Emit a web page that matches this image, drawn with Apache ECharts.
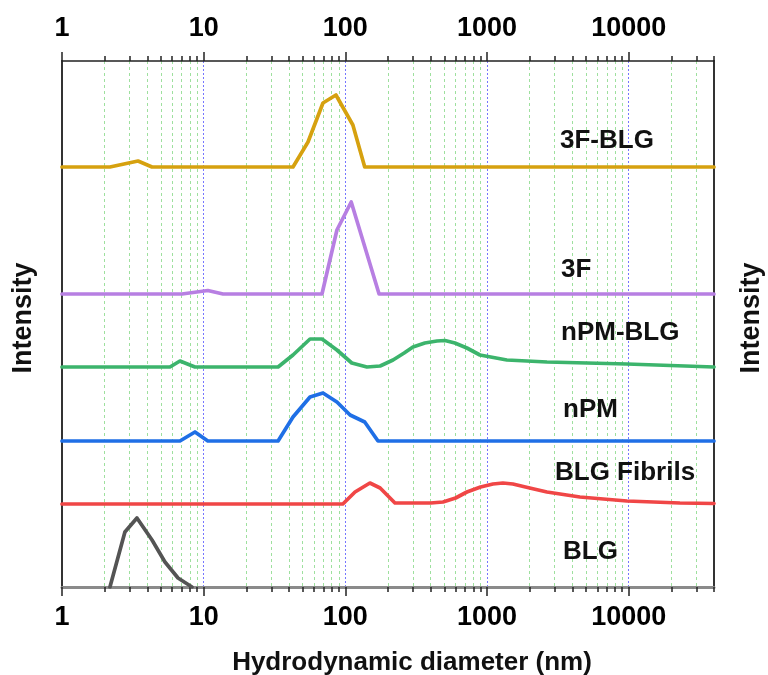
<!DOCTYPE html>
<html><head><meta charset="utf-8">
<script src="https://cdn.jsdelivr.net/npm/echarts@6/dist/echarts.min.js"></script>
<style>html,body{margin:0;padding:0;background:#fff}#c{width:768px;height:675px}</style>
</head><body><div id="c"></div>
<script>
// ---- data (hydrodynamic diameter in nm, intensity in arbitrary units) ----
const seriesNames = ['3F-BLG', '3F', 'nPM-BLG', 'nPM', 'BLG Fibrils', 'BLG'];
const seriesColors = ['#D6A10F', '#B77FE2', '#3CB46C', '#1F6FE6', '#F04646', '#545454'];
const offsets = [420, 293, 220, 146, 83, 0];

const x_3FBLG = [1, 2.18, 3.44, 4.32, 42.7, 54.5, 69.5, 85.8, 113, 137, 40000];
const y_3FBLG = [0, 0, 6, 0, 0, 25, 64, 72, 42, 0, 0];

const x_3F = [1, 7.03, 10.7, 13.7, 68.4, 87.2, 110, 173, 40000];
const y_3F = [0, 0, 3.5, 0, 0, 64, 92, 0, 0];

const x_nPMBLG = [1, 5.78, 6.80, 8.68, 33.5, 42.7, 56.3, 68.4, 87.2, 111, 142, 176, 217, 260, 300, 364, 443, 505, 593, 721, 891, 1381, 2650, 9710, 40000];
const y_nPMBLG = [0, 0, 6, 0, 0, 12, 28, 28, 17, 4, 0, 1, 7, 14, 20, 24, 26, 26.5, 24, 19, 12, 7, 5, 3, 0];

const x_nPM = [1, 6.80, 8.68, 10.7, 33.5, 42.7, 56.3, 69.5, 87.2, 108, 137, 170, 40000];
const y_nPM = [0, 0, 9, 0, 0, 24, 44, 48, 39, 26, 19, 0, 0];

const x_fib = [1, 96, 117, 149, 176, 224, 286, 400, 489, 600, 721, 900, 1101, 1295, 1523, 2000, 2648, 4525, 9710, 22980, 40000];
const y_fib = [0, 0, 12, 21, 16, 1, 1, 1, 2, 6, 12, 17, 20, 21, 20, 16, 12, 7, 3, 1, 0.5];

const x_BLG = [2.18, 2.78, 3.38, 4.32, 5.33, 6.59, 8.27];
const y_BLG = [0, 55, 69, 47, 25, 9, 0];

const xs = [x_3FBLG, x_3F, x_nPMBLG, x_nPM, x_fib, x_BLG];
const ys = [y_3FBLG, y_3F, y_nPMBLG, y_nPM, y_fib, y_BLG];

const majorTicks = [1, 10, 100, 1000, 10000];
const minorTicks = [2,3,4,5,6,7,8,9, 20,30,40,50,60,70,80,90, 200,300,400,500,600,700,800,900,
  2000,3000,4000,5000,6000,7000,8000,9000, 20000,30000,40000];
const xMin = 1, xMax = 40000, yMax = 526;

const labelPos = [[560,141],[561,270],[561,333],[563,410],[555,473],[563,552]];
// -------------------------------------------------------------------------

const FONT = '"Liberation Sans", Arial, sans-serif';
const chart = echarts.init(document.getElementById('c'), null, {renderer: 'canvas'});

function axisBase(pos) {
  return {type: 'log', logBase: 10, min: xMin, max: xMax, position: pos, gridIndex: 0};
}
const xAxes = [
  Object.assign(axisBase('bottom'), {
    axisLine: {show: true, lineStyle: {color: '#8a8a8a', width: 3}},
    axisTick: {show: true, length: 9, inside: false, customValues: majorTicks, lineStyle: {color: '#222', width: 1.5}},
    axisLabel: {show: true, customValues: majorTicks, margin: 17, color: '#000',
      fontFamily: FONT, fontWeight: 'bold', fontSize: 27, formatter: v => String(Math.round(v))},
    splitLine: {show: true, lineStyle: {color: '#7676ff', width: 1, type: [2, 2]}}
  }),
  Object.assign(axisBase('bottom'), {
    axisLine: {show: false},
    axisTick: {show: true, length: 5, inside: false, customValues: minorTicks, lineStyle: {color: '#222', width: 1.5}},
    axisLabel: {show: false},
    splitLine: {show: true, lineStyle: {color: '#9ee09e', width: 1, type: [3, 3]}}
  }),
  Object.assign(axisBase('top'), {
    axisLine: {show: true, lineStyle: {color: '#222', width: 1.5}},
    axisTick: {show: true, length: 9, inside: false, customValues: majorTicks, lineStyle: {color: '#222', width: 1.5}},
    axisLabel: {show: true, customValues: majorTicks, margin: 19, color: '#000',
      fontFamily: FONT, fontWeight: 'bold', fontSize: 27, formatter: v => String(Math.round(v))},
    splitLine: {show: false}
  }),
  Object.assign(axisBase('top'), {
    axisLine: {show: false},
    axisTick: {show: true, length: 5, inside: false, customValues: minorTicks, lineStyle: {color: '#222', width: 1.5}},
    axisLabel: {show: false},
    splitLine: {show: false}
  })
];

const yAxes = ['left', 'right'].map(p => ({
  type: 'value', min: 0, max: yMax, position: p,
  axisLine: {show: true, onZero: false, lineStyle: {color: '#333', width: 2}},
  axisTick: {show: false}, axisLabel: {show: false}, splitLine: {show: false}
}));

const series = seriesNames.map((name, k) => ({
  name, type: 'line', xAxisIndex: 0, yAxisIndex: 0,
  data: xs[k].map((x, i) => [x, ys[k][i] + offsets[k]]),
  showSymbol: false, symbol: 'none', smooth: false, z: 3,
  lineStyle: {color: seriesColors[k], width: 3.7, join: 'round', cap: 'round'},
  animation: false
}));

const texts = seriesNames.map((name, k) => ({
  type: 'text', x: labelPos[k][0], y: labelPos[k][1], z: 10,
  style: {text: name, fill: '#111', font: 'bold 26px ' + FONT, align: 'left', verticalAlign: 'middle'}
}));
texts.push({type: 'text', x: 412, y: 663, z: 10,
  style: {text: 'Hydrodynamic diameter (nm)', fill: '#111', font: 'bold 26px ' + FONT, align: 'center', verticalAlign: 'middle'}});
texts.push({type: 'text', x: 24, y: 318, rotation: Math.PI / 2, z: 10,
  style: {text: 'Intensity', fill: '#111', font: 'bold 27px ' + FONT, align: 'center', verticalAlign: 'middle'}});
texts.push({type: 'text', x: 752, y: 318, rotation: Math.PI / 2, z: 10,
  style: {text: 'Intensity', fill: '#111', font: 'bold 27px ' + FONT, align: 'center', verticalAlign: 'middle'}});

chart.setOption({
  animation: false,
  backgroundColor: '#fff',
  grid: {left: 62, right: 54, top: 61, bottom: 88, containLabel: false},
  xAxis: xAxes,
  yAxis: yAxes,
  series,
  graphic: texts
});
</script></body></html>
